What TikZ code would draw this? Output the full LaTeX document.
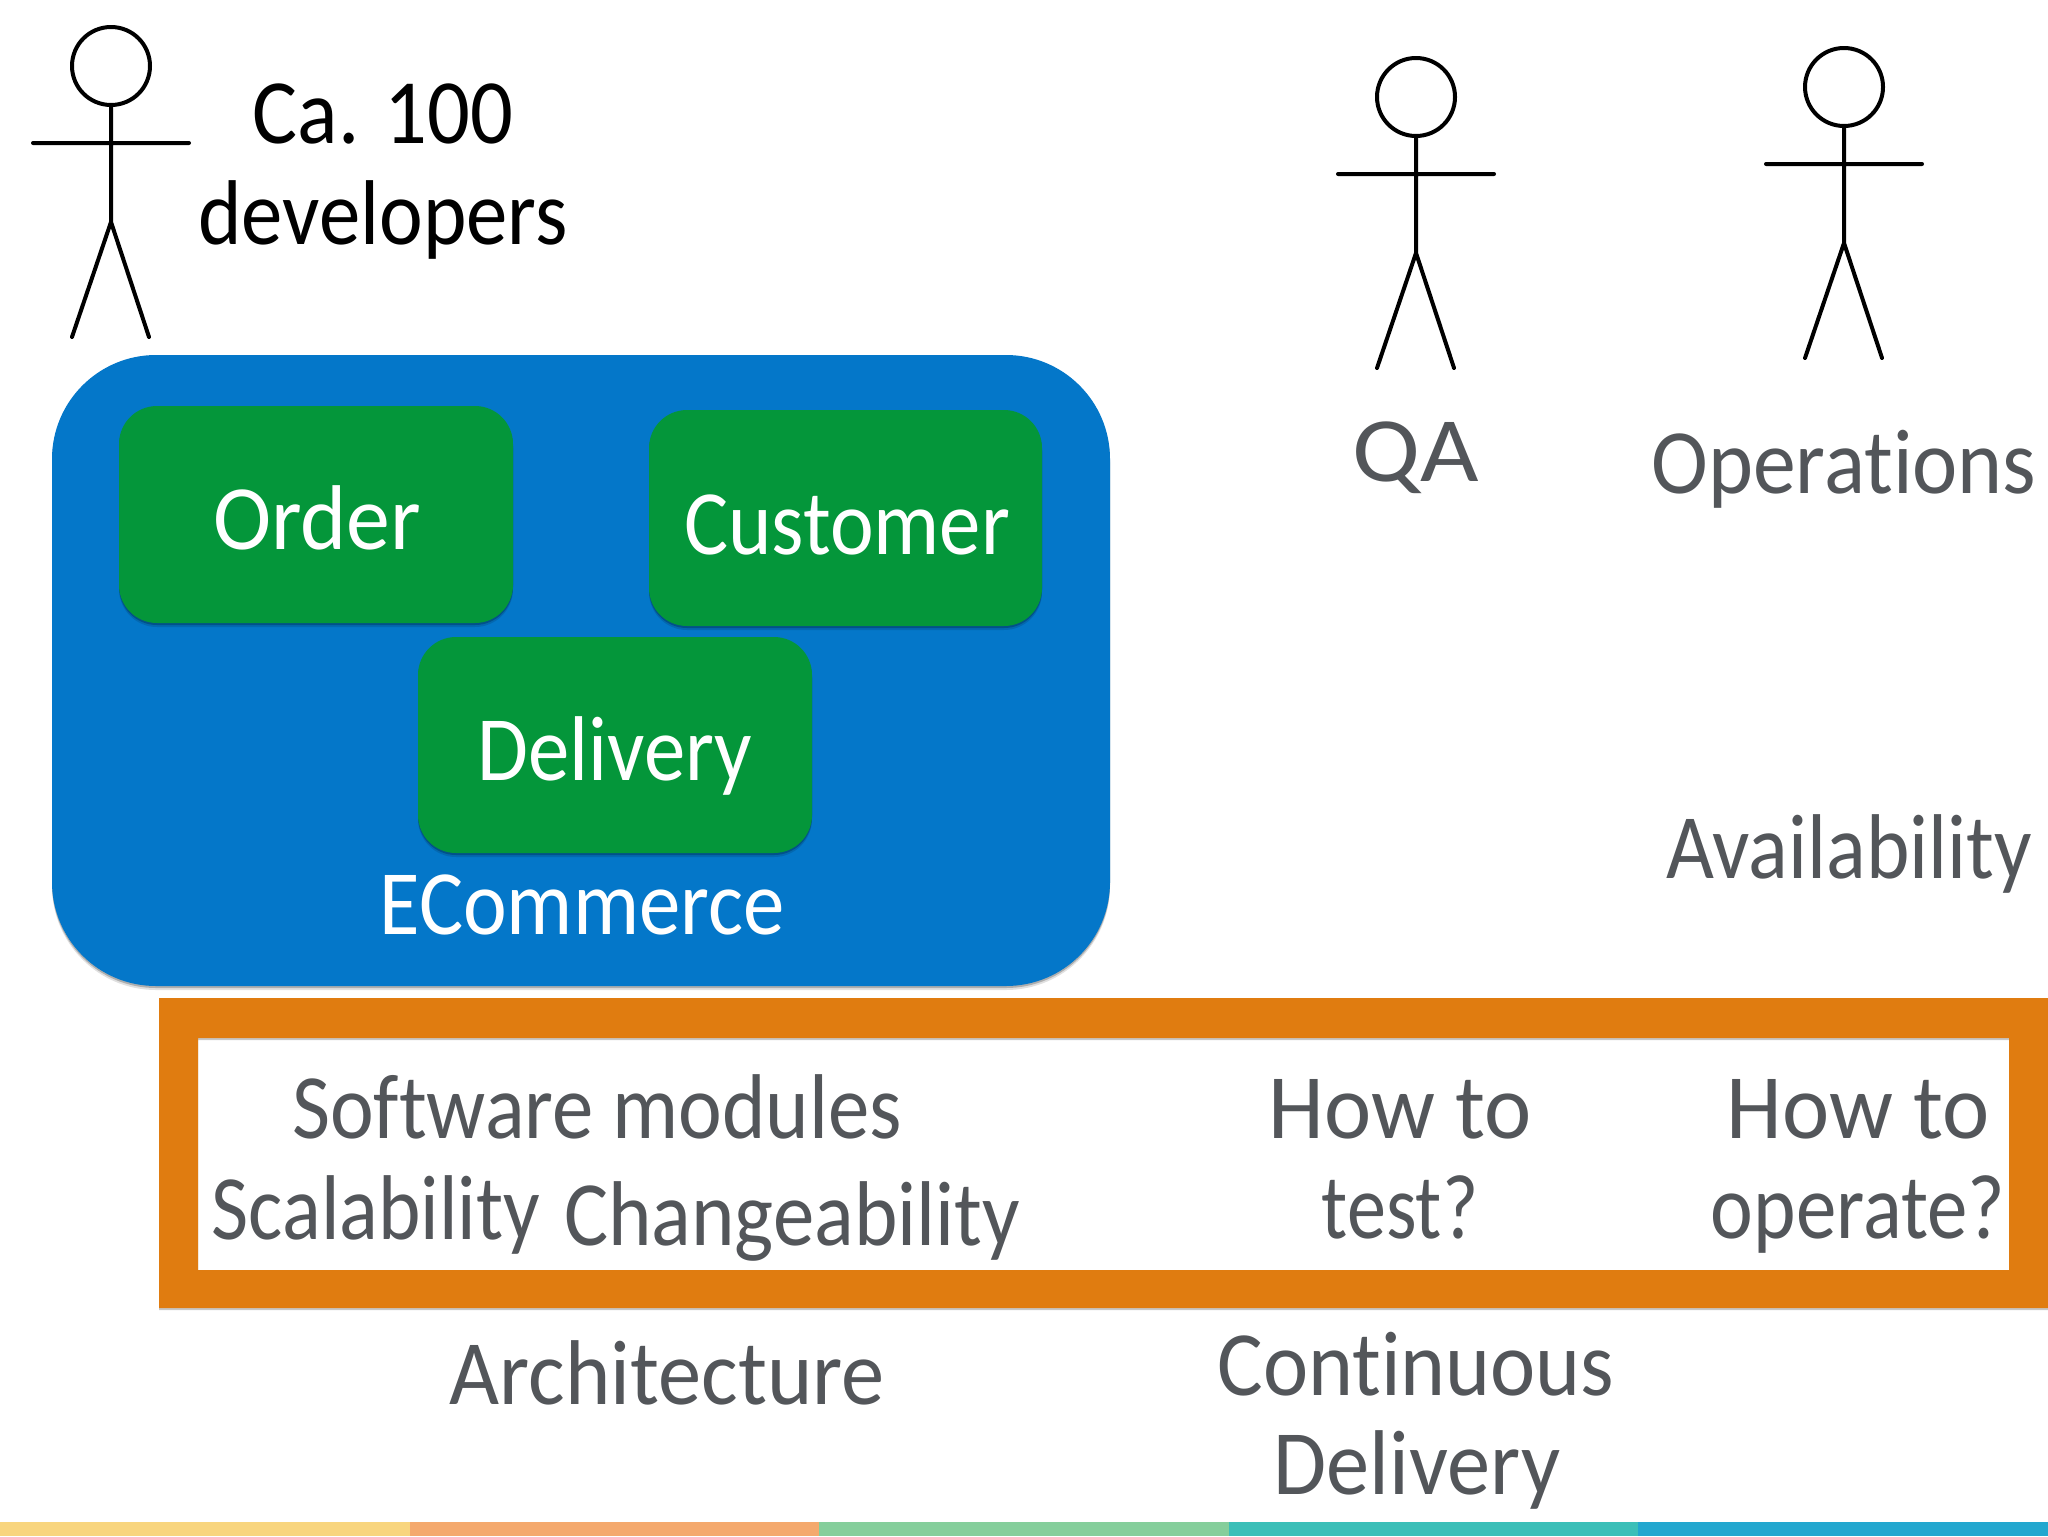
\documentclass[tikz,border=0pt]{standalone}
\usepackage{fontspec}
\usepackage{graphicx}
\setmainfont{Carlito}[FakeStretch=0.9,Ligatures=NoCommon]
\newcommand{\hfit}[2]{\scalebox{#1}[1]{#2}}
\definecolor{ablue}{HTML}{0477C9}
\definecolor{agreen}{HTML}{04963A}
\definecolor{aorange}{HTML}{E07C10}
\definecolor{agrey}{HTML}{53565A}
\definecolor{sa}{HTML}{F8D57E}
\definecolor{sb}{HTML}{F4A96D}
\definecolor{sc}{HTML}{85CE9B}
\definecolor{sd}{HTML}{3CBFB8}
\definecolor{se}{HTML}{23A7CF}
\tikzset{
  x=0.5pt,y=-0.5pt,
  lbl/.style={anchor=base,inner sep=0pt,font=\fontsize{46}{46}\selectfont,text=agrey},
  blk/.style={lbl,text=black},
  wht/.style={lbl,text=white},
  softshadow/.style={
    preaction={fill=black,fill opacity=.12,transform canvas={yshift=-2pt}},
    preaction={fill=black,fill opacity=.22,transform canvas={yshift=-1pt}}},
  greenbox/.style={fill=agreen,rounded corners=19pt,softshadow},
  stick/.pic={
    \draw[line width=2pt,line cap=round,line join=round]
      (0,0) circle[radius=39]
      (0,40) -- (0,156)
      (-78,77) -- (78,77)
      (-39,271) -- (0,156) -- (38,271);
  },
  stripe/.style={fill=#1,draw=none}
}
\begin{document}
\begin{tikzpicture}
\useasboundingbox (0,0) rectangle (2048,1536);
\fill[white] (0,0) rectangle (2048,1536);
% stripes
\fill[stripe=sa] (0,1522) rectangle (410,1536);
\fill[stripe=sb] (410,1522) rectangle (819,1536);
\fill[stripe=sc] (819,1522) rectangle (1229,1536);
\fill[stripe=sd] (1229,1522) rectangle (1638,1536);
\fill[stripe=se] (1638,1522) rectangle (2048,1536);
% figures
\pic at (111,66) {stick};
\pic at (1416,97) {stick};
\pic at (1844,87) {stick};
\node[blk] (ca) at (383,143) {\hfit{1.02}{Ca. 100}};
\node[blk] (dev) at (383,244) {developers};
% ecommerce
\path[fill=ablue,rounded corners=52pt,softshadow] (52,355) rectangle (1110,986);
\path[greenbox] (119,406) rectangle (513,623);
\path[greenbox] (649,410) rectangle (1042,626);
\path[greenbox] (418,637) rectangle (812,853);
\node[wht] (order) at (317,549) {\hfit{1.06}{Order}};
\node[wht] (customer) at (847,554) {Customer};
\node[wht] (delivery) at (615,780) {Delivery};
\node[wht] (ecom) at (582,934) {ECommerce};
\node[lbl] (qa) at (1416,481) {\hfit{1.22}{QA}};
\node[lbl] (ops) at (1844,493) {\hfit{1.035}{Operations}};
\node[lbl] (avail) at (1849,878) {Availability};
% orange frame
\path[fill=black,fill opacity=.22,even odd rule,transform canvas={yshift=-1pt}] (159,998) rectangle (2048,1308) (198,1038) rectangle (2009,1270);
\path[fill=aorange,even odd rule] (159,998) rectangle (2048,1308) (198,1038) rectangle (2009,1270);
\node[lbl] (sw) at (597,1138) {Software modules};
\node[lbl] (scal) at (376,1239) {\hfit{.976}{Scalability}};
\node[lbl] (chg) at (792,1245) {Changeability};
\node[lbl] (how1) at (1400,1138) {\hfit{1.08}{How to}};
\node[lbl] (test) at (1400,1238) {\hfit{.944}{test?}};
\node[lbl] (how2) at (1858,1138) {\hfit{1.08}{How to}};
\node[lbl] (oper) at (1858,1238) {\hfit{.978}{operate?}};
\node[lbl] (arch) at (667,1404) {\hfit{1.044}{Architecture}};
\node[lbl] (cont) at (1416,1395) {\hfit{1.034}{Continuous}};
\node[lbl] (del2) at (1417,1494) {\hfit{1.043}{Delivery}};
\end{tikzpicture}
\end{document}
